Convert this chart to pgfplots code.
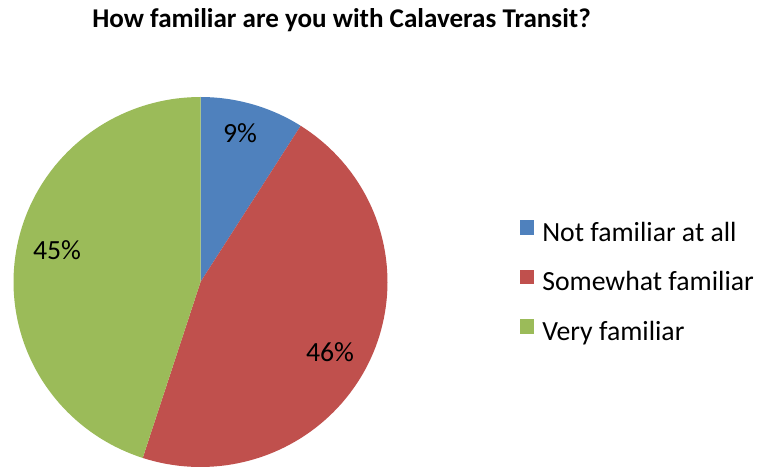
\documentclass[border=0pt]{standalone}
\usepackage{fontspec}
\setmainfont{Carlito}
\usepackage{pgfplots}
\pgfplotsset{compat=1.18}
\usepackage{pgfplotstable}

\definecolor{pieblue}{HTML}{4F81BD}
\definecolor{piered}{HTML}{C0504D}
\definecolor{piegreen}{HTML}{9BBB59}

% shares in percent, clockwise from 12 o'clock
\pgfplotstableread{
label value
notfam 9
somefam 46
veryfam 45
}\piedata
\pgfplotstablegetelem{0}{value}\of\piedata \let\va\pgfplotsretval
\pgfplotstablegetelem{1}{value}\of\piedata \let\vb\pgfplotsretval
\pgfplotstablegetelem{2}{value}\of\piedata \let\vc\pgfplotsretval
\pgfmathsetmacro\aA{90}
\pgfmathsetmacro\aB{90-\va*3.6}
\pgfmathsetmacro\aC{\aB-\vb*3.6}
\pgfmathsetmacro\aD{\aC-\vc*3.6}

\begin{document}
\begin{tikzpicture}
\fontsize{20.8}{25}\selectfont
\begin{axis}[
    name=ax,
    width=567.75pt, height=350.25pt, scale only axis,
    xmin=0, xmax=757, ymin=0, ymax=467,
    hide axis, clip=false,
    legend style={
        at={(axis cs:520,184)}, anchor=west,
        draw=none, fill=none, inner sep=0pt,
        font=\fontsize{20.8}{25}\selectfont,
        row sep=17.25pt,
        nodes={inner sep=0pt, text height=14pt, text depth=4pt},
        column sep=6pt,
    },
    legend cell align=left,
    legend image code/.code={
        \fill[#1] (0pt,0pt) rectangle (10.5pt,10.9pt);
    },
]
\addplot[fill=pieblue, draw=none, domain=\aB:\aA, samples=30]
    ({200.5+187*cos(x)}, {185+185*sin(x)}) -- (axis cs:200.5,185) -- cycle;
\addplot[fill=piered, draw=none, domain=\aC:\aB, samples=90]
    ({200.5+187*cos(x)}, {185+185*sin(x)}) -- (axis cs:200.5,185) -- cycle;
\addplot[fill=piegreen, draw=none, domain=\aD:\aC, samples=90]
    ({200.5+187*cos(x)}, {185+185*sin(x)}) -- (axis cs:200.5,185) -- cycle;
\legend{Not familiar at all, Somewhat familiar, Very familiar}

\node[anchor=base, font=\bfseries\fontsize{20.3}{24}\selectfont] at (axis cs:341.5,439) {How familiar are you with Calaveras Transit?};
\node at (axis cs:240,334) {\va\%};
\node at (axis cs:330,115) {\vb\%};
\node at (axis cs:57,217) {\vc\%};
\end{axis}
\pgfresetboundingbox
\path[use as bounding box] (ax.south west) rectangle (ax.north east);
\end{tikzpicture}
\end{document}
